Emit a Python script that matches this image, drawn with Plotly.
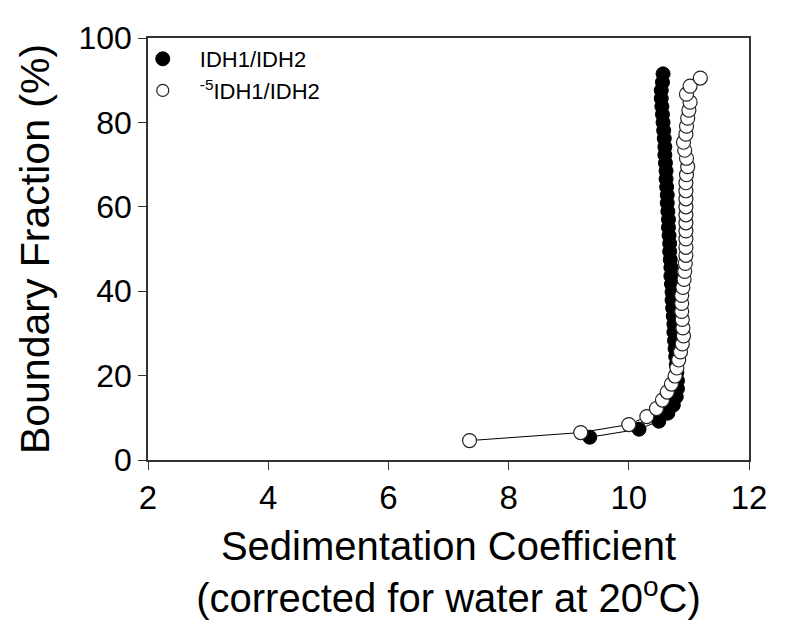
import plotly.graph_objects as go

# IDH1/IDH2 (filled)
wt_s = [9.35, 10.17, 10.50, 10.65, 10.74, 10.79, 10.81, 10.81, 10.80, 10.79,
        10.78, 10.77, 10.76, 10.75, 10.75, 10.74, 10.73, 10.72, 10.72, 10.71,
        10.70, 10.70, 10.69, 10.68, 10.68, 10.67, 10.66, 10.66, 10.65, 10.64,
        10.64, 10.63, 10.62, 10.62, 10.61, 10.60, 10.60, 10.59, 10.58, 10.57,
        10.56, 10.55, 10.54, 10.54, 10.56, 10.57]
wt_f = [5.4, 7.3, 9.2, 11.1, 13.0, 15.0, 16.9, 18.8, 20.7, 22.6,
        24.5, 26.4, 28.3, 30.3, 32.2, 34.1, 36.0, 37.9, 39.8, 41.7,
        43.6, 45.6, 47.5, 49.4, 51.3, 53.2, 55.1, 57.0, 58.9, 60.9,
        62.8, 64.7, 66.6, 68.5, 70.4, 72.3, 74.2, 76.2, 78.1, 80.0,
        81.9, 83.8, 85.7, 87.6, 89.5, 91.5]

# -5IDH1/IDH2 (open)
m5_s = [7.35, 9.20, 10.00, 10.30, 10.46, 10.56, 10.64, 10.71, 10.77, 10.80,
        10.83, 10.86, 10.89, 10.91, 10.90, 10.89, 10.88, 10.88, 10.88, 10.90,
        10.92, 10.93, 10.94, 10.95, 10.95, 10.95, 10.95, 10.95, 10.95, 10.95,
        10.95, 10.95, 10.95, 10.96, 10.98, 10.96, 10.93, 10.91, 10.95, 10.96,
        10.98, 11.00, 11.02, 10.96, 11.02, 11.19]
m5_f = [4.6, 6.5, 8.4, 10.3, 12.2, 14.2, 16.1, 18.0, 19.9, 21.8,
        23.7, 25.6, 27.5, 29.4, 31.3, 33.3, 35.2, 37.1, 39.0, 40.9,
        42.8, 44.7, 46.6, 48.5, 50.4, 52.4, 54.3, 56.2, 58.1, 60.0,
        61.9, 63.8, 65.7, 67.6, 69.5, 71.5, 73.4, 75.3, 77.2, 79.1,
        81.0, 82.9, 84.8, 86.7, 88.6, 90.5]

x_ticks = [2, 4, 6, 8, 10, 12]
y_ticks = [0, 20, 40, 60, 80, 100]

FONT = "Liberation Sans, Arial, Helvetica, sans-serif"

fig = go.Figure()
fig.add_trace(go.Scatter(
    x=wt_s, y=wt_f, mode="lines+markers", showlegend=False,
    line=dict(color="black", width=1),
    marker=dict(symbol="circle", size=14, color="black",
                line=dict(color="black", width=1))))
fig.add_trace(go.Scatter(
    x=m5_s, y=m5_f, mode="lines+markers", showlegend=False,
    line=dict(color="black", width=1),
    marker=dict(symbol="circle", size=14, color="white",
                line=dict(color="#222222", width=1.2))))
# legend entries
fig.add_trace(go.Scatter(
    x=[None], y=[None], mode="markers", name="IDH1/IDH2",
    marker=dict(symbol="circle", size=14, color="black",
                line=dict(color="black", width=1))))
fig.add_trace(go.Scatter(
    x=[None], y=[None], mode="markers", name="<sup>-5</sup>IDH1/IDH2",
    marker=dict(symbol="circle", size=12, color="white",
                line=dict(color="#222222", width=1.2))))

fig.update_layout(
    width=771, height=619,
    margin=dict(l=140, r=16, t=20, b=167),
    paper_bgcolor="white", plot_bgcolor="white",
    font=dict(family=FONT, color="black"),
    legend=dict(x=-0.037, y=1.0, xanchor="left", yanchor="top",
                bgcolor="rgba(0,0,0,0)", font=dict(size=22, family=FONT),
                itemwidth=64, tracegroupgap=0),
    xaxis=dict(range=[2, 12], tickvals=x_ticks, ticks="outside", ticklen=8,
               tickwidth=1.2, tickcolor="#333333", ticklabeloverflow="allow",
               showline=True, mirror=True, linecolor="#333333", linewidth=1.5,
               showgrid=False, zeroline=False,
               tickfont=dict(size=33, family=FONT),
               title=dict(text="Sedimentation Coefficient<br>(corrected for water at 20<sup>o</sup>C)",
                          font=dict(size=40, family=FONT), standoff=17)),
    yaxis=dict(range=[0, 100], tickvals=y_ticks, ticks="outside", ticklen=8,
               tickwidth=1.2, tickcolor="#333333",
               showline=True, mirror=True, linecolor="#333333", linewidth=1.5,
               showgrid=False, zeroline=False,
               tickfont=dict(size=32, family=FONT),
               title=dict(text="Boundary Fraction (%)",
                          font=dict(size=41, family=FONT), standoff=16)),
)

fig.write_html("out.html")
